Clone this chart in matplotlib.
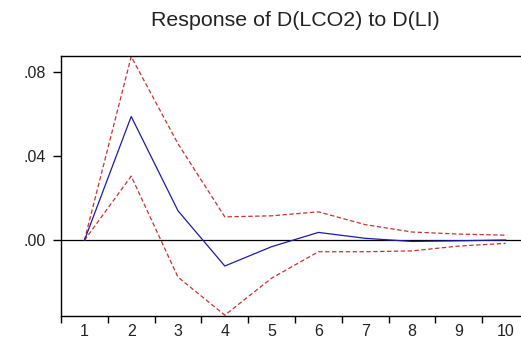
import matplotlib
matplotlib.use("Agg")
import matplotlib.pyplot as plt
from matplotlib.ticker import FixedLocator, FuncFormatter

periods = [1, 2, 3, 4, 5, 6, 7, 8, 9, 10]
response = [0.0, 0.059, 0.0141, -0.0122, -0.003, 0.0038, 0.001, -0.0005, -0.0002, 0.0002]
upper = [0.0, 0.0875, 0.046, 0.0112, 0.0117, 0.0136, 0.0075, 0.004, 0.003, 0.0025]
lower = [0.0, 0.0306, -0.0175, -0.0356, -0.018, -0.0054, -0.0054, -0.005, -0.0027, -0.0014]
title = "Response of D(LCO2) to D(LI)"
yticks = [0.0, 0.04, 0.08]

plt.rcParams['font.family'] = ['Liberation Sans', 'DejaVu Sans']

fig = plt.figure(figsize=(5.21, 3.47), dpi=100)
ax = fig.add_axes([61/521, 31/347, 468/521, 260/347])

ax.axhline(0, color='black', lw=0.9, zorder=1)
ax.plot(periods, upper, color='#C83232', lw=0.9, ls=(0, (3.5, 2)), zorder=2)
ax.plot(periods, lower, color='#C83232', lw=0.9, ls=(0, (3.5, 2)), zorder=2)
ax.plot(periods, response, color='#1C1CA8', lw=0.9, zorder=3)

ax.set_xlim(0.5, 10.5)
ax.set_ylim(-0.036, 0.0878)

ax.xaxis.set_major_locator(FixedLocator(periods))
ax.xaxis.set_minor_locator(FixedLocator([p - 0.5 for p in periods]))
ax.tick_params(axis='x', which='major', length=0, labelsize=11.5, pad=6, colors='#222222')
ax.tick_params(axis='x', which='minor', length=5, width=1, direction='out', color='black')
ax.set_yticks(yticks)
ax.yaxis.set_major_formatter(FuncFormatter(lambda v, p: ('%.2f' % v).replace('0.', '.', 1)))
ax.tick_params(axis='y', which='major', length=6, width=1, direction='out', labelsize=11.5, pad=5)
ax.tick_params(axis='y', colors='black', labelcolor='#222222')

for s in ax.spines.values():
    s.set_linewidth(1.0)
    s.set_color('black')

fig.text(295/521, 1 - 21/347, title, ha='center', va='center', fontsize=15.4, color='#222222')

fig.savefig("out.png", dpi=100)
